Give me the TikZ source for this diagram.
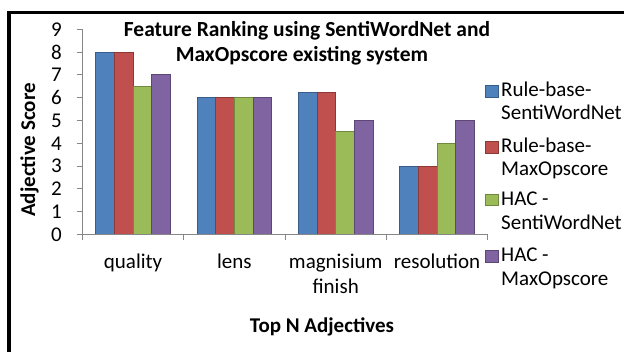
\documentclass[tikz,border=0pt]{standalone}
\usepackage{fontspec}
\setmainfont{Carlito}
\begin{document}
\begin{tikzpicture}[x=1pt,y=-1pt,
  axisline/.style={draw=black!47, line width=1pt},
  lbl/.style={font=\fontsize{21}{25}\selectfont, inner sep=0pt},
  blbl/.style={font=\fontsize{21}{25}\selectfont\bfseries, inner sep=0pt},
  tlbl/.style={font=\fontsize{21.5}{25}\selectfont\bfseries, inner sep=0pt},
  barA/.style={fill={rgb,255:red,79;green,129;blue,189}, draw={rgb,255:red,56;green,93;blue,138}, line width=0.8pt},
  barB/.style={fill={rgb,255:red,192;green,80;blue,77}, draw={rgb,255:red,140;green,56;blue,54}, line width=0.8pt},
  barC/.style={fill={rgb,255:red,155;green,187;blue,89}, draw={rgb,255:red,113;green,137;blue,63}, line width=0.8pt},
  barD/.style={fill={rgb,255:red,128;green,100;blue,162}, draw={rgb,255:red,92;green,71;blue,118}, line width=0.8pt}]
\useasboundingbox (0,0) rectangle (624,352);
\fill[white] (0,0) rectangle (624,352);
% frame (top and left only visible)
\draw[line width=3.5pt] (9,352) -- (9,12.7) -- (624,12.7);
% title
\node[tlbl, anchor=base] (title1) at (307,36.7) {Feature Ranking using SentiWordNet and};
\node[tlbl, anchor=base] (title2) at (302,61.7) {MaxOpscore existing system};
% bars
\foreach \c/\a/\b/\g/\p in {0/8/8/6.5/7, 1/6/6/6/6, 2/6.25/6.25/4.5/5, 3/3/3/4/5}{
  \pgfmathsetmacro{\xs}{82.5+101.3*\c+13.3}
  \draw[barA] (\xs,234.5) rectangle ({\xs+18.67},{234.5-22.8*\a});
  \draw[barB] ({\xs+18.67},234.5) rectangle ({\xs+37.33},{234.5-22.8*\b});
  \draw[barC] ({\xs+37.33},234.5) rectangle ({\xs+56},{234.5-22.8*\g});
  \draw[barD] ({\xs+56},234.5) rectangle ({\xs+74.67},{234.5-22.8*\p});
}
% axes
\coordinate (o) at (82.5,234.5);
\coordinate (ytop) at (82.5,{234.5-22.8*9});
\coordinate (xend) at (487.7,234.5);
\draw[axisline] (ytop) -- (o) -- (xend);
\foreach \v in {0,...,9}{
  \draw[axisline] (76.5,{234.5-22.8*\v}) -- (82.5,{234.5-22.8*\v});
  \node[lbl, anchor=east] (tick\v) at (62,{234.5-22.8*\v}) {\v};
}
\foreach \c in {0,...,4}{
  \draw[axisline] ({82.5+101.3*\c},234.5) -- ({82.5+101.3*\c},240.5);
}
% category labels
\node[lbl, anchor=base] (cat1) at (133.1,269) {quality};
\node[lbl, anchor=base] (cat2) at (234.4,269) {lens};
\node[lbl, anchor=base] (cat3) at (335.7,269) {magnisium};
\node[lbl, anchor=base] (cat3b) at (335.7,293.5) {finish};
\node[lbl, anchor=base] (cat4) at (437.0,269) {resolution};
% axis titles
\node[blbl, anchor=base] (xtitle) at (322,332.7) {Top N Adjectives};
\node[blbl, anchor=base, rotate=90] (ytitle) at (35,150) {Adjective Score};
% legend
\draw[barA] (485,85) rectangle (498,97);
\node[lbl, anchor=base west] (l1a) at (501,96.7) {Rule-base-};
\node[lbl, anchor=base west] (l1b) at (501,120) {SentiWordNet};
\draw[barB] (485,141.7) rectangle (498,153.3);
\node[lbl, anchor=base west] (l2a) at (501,152.7) {Rule-base-};
\node[lbl, anchor=base west] (l2b) at (501,176) {MaxOpscore};
\draw[barC] (485,194) rectangle (498,205.5);
\node[lbl, anchor=base west] (l3a) at (501,205.3) {HAC -};
\node[lbl, anchor=base west] (l3b) at (501,229.3) {SentiWordNet};
\draw[barD] (485,250.5) rectangle (498,262);
\node[lbl, anchor=base west] (l4a) at (501,262) {HAC -};
\node[lbl, anchor=base west] (l4b) at (501,286) {MaxOpscore};
\end{tikzpicture}
\end{document}
